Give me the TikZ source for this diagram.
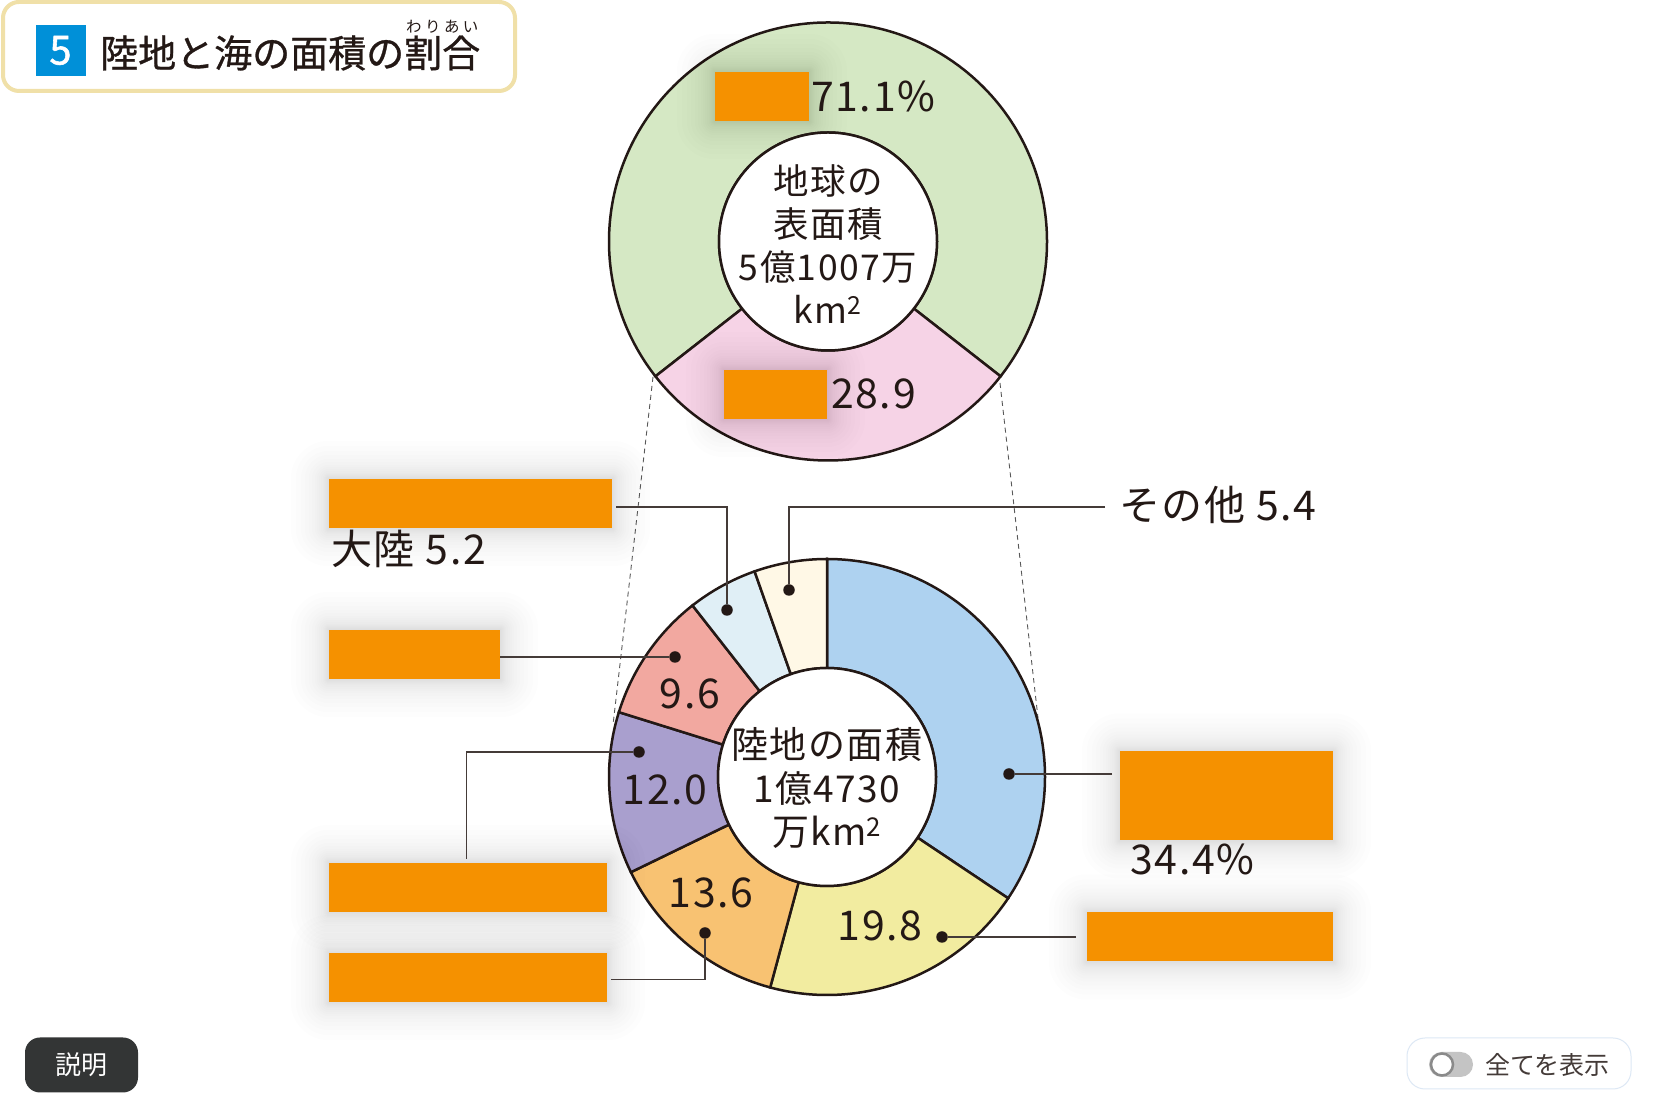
\documentclass[tikz,border=0pt]{standalone}
\usepackage{fontspec}
\usetikzlibrary{calc}
\newfontfamily\jpfont{Noto Sans CJK JP}
\newfontfamily\wordfont[LetterSpace=4]{Noto Sans CJK JP}
\newfontfamily\titlefont[FakeBold=0.8]{Noto Sans CJK JP}
\newfontfamily\badgefont[FakeBold=1.4]{Noto Sans CJK JP}
\newfontfamily\rubyfont[LetterSpace=22]{Noto Sans CJK JP}
\definecolor{inkline}{HTML}{231815}
\definecolor{seagreen}{HTML}{D5E8C4}
\definecolor{landpink}{HTML}{F6D3E6}
\definecolor{ringblue}{HTML}{AED2F0}
\definecolor{ringyellow}{HTML}{F2ECA0}
\definecolor{ringorange}{HTML}{F8C272}
\definecolor{ringpurple}{HTML}{A99FCE}
\definecolor{ringred}{HTML}{F2A8A0}
\definecolor{ringpale}{HTML}{E0EFF6}
\definecolor{ringcream}{HTML}{FFF8E6}
\definecolor{maskorange}{HTML}{F59100}
\pgfdeclarelayer{rings}
\pgfdeclarelayer{shadow}
\pgfsetlayers{rings,shadow,main}
\tikzset{
	ringline/.style={draw=inkline,line width=2.5pt},
	hub/.style={circle,draw=inkline,line width=2.5pt,fill=white,inner sep=0pt,minimum size=#1},
	hubtext/.style={align=center,text=inkline,inner sep=0pt,font=\wordfont\fontsize{35.5}{43}\selectfont},
	maskbox/.style={fill=maskorange,inner sep=0pt},
	dotmark/.style={circle,fill=inkline,inner sep=0pt,minimum size=11.5pt},
	leader/.style={draw=inkline!85,line width=1.1pt},
	figure/.style={text=inkline,inner sep=0pt,font=\wordfont\fontsize{41}{41}\selectfont}
}
\begin{document}
\begin{tikzpicture}[x=1pt,y=1pt]
		\useasboundingbox (0,0) rectangle (1655,1110);
		\begin{pgfonlayer}{rings}
		\fill[white] (0,0) rectangle (1655,1110);
		\coordinate (earth) at (828,868.5);
		\coordinate (land) at (827,333);
		% dashed guide lines between the two rings
		\coordinate (guideAa) at (653,733);
		\coordinate (guideAb) at (613,385);
		\coordinate (guideBa) at (1000,727);
		\coordinate (guideBb) at (1038,392);
		\draw[black!65,line width=.9pt,dash pattern=on 5pt off 4pt] (guideAa) -- (guideAb);
		\draw[black!65,line width=.9pt,dash pattern=on 5pt off 4pt] (guideBa) -- (guideBb);
		\begin{scope}[shift={(earth)}]
		\foreach \a/\b/\c in {-38/218/seagreen,218/322/landpink}
		{
			\filldraw[ringline,fill=\c] (\a:109) -- (\a:219) arc (\a:\b:219) -- (\b:109) arc (\b:\a:109) -- cycle;
		}
		\end{scope}
		\begin{scope}[shift={(land)}]
		\foreach \a/\b/\c in {90/-33.8/ringblue,-33.8/-105.1/ringyellow,-105.1/-154.1/ringorange,-154.1/-197.3/ringpurple,-197.3/-231.9/ringred,-231.9/-250.6/ringpale,-250.6/-270/ringcream}
		{
			\filldraw[ringline,fill=\c] (\a:109) -- (\a:218) arc (\a:\b:218) -- (\b:109) arc (\b:\a:109) -- cycle;
		}
		\end{scope}
		\end{pgfonlayer}
		\node[hub=218pt] (earthhub) at (earth) {};
		\node[hub=218pt] (landhub) at (land) {};
		\node[hubtext] (earthtext) at (828,866) {地球の\\表面積\\5億1007万\\km\textsuperscript{2}};
		\node[hubtext,font=\wordfont\fontsize{37}{43.5}\selectfont] (landtext) at (827,322) {陸地の面積\\1億4730\\万km\textsuperscript{2}};
		% orange cover boxes
		\node[maskbox,minimum width=94pt,minimum height=49pt] (seabox) at (762,1013.5) {};
		\node[maskbox,minimum width=103pt,minimum height=49pt] (landbox) at (775.5,715.5) {};
		\node[maskbox,minimum width=283pt,minimum height=49pt] (paleb) at (470.5,606.5) {};
		\node[maskbox,minimum width=171pt,minimum height=49pt] (redb) at (414.5,455.5) {};
		\node[maskbox,minimum width=278pt,minimum height=49pt] (purpleb) at (468,222.5) {};
		\node[maskbox,minimum width=278pt,minimum height=49pt] (orangeb) at (468,132.5) {};
		\node[maskbox,minimum width=213pt,minimum height=89pt] (blueb) at (1226.5,314) {};
		\node[maskbox,minimum width=246pt,minimum height=49pt] (yellowb) at (1210,173) {};
		\begin{pgfonlayer}{shadow}
		\foreach \n in {seabox,landbox,paleb,redb,purpleb,orangeb,blueb,yellowb}
		\foreach \g in {1,2,3,4,5,6,8,10,12,14,17,20,24,28,33,38}
		{
			\fill[black,opacity=.008,rounded corners=\g pt] ($(\n.south west)+(-\g,-\g)$) rectangle ($(\n.north east)+(\g,\g)$);
		}
		\end{pgfonlayer}
		% values
		\node[figure,anchor=west] (seaval) at (811,1014) {71.1\%};
		\node[figure,anchor=west] (landval) at (831,716) {28.9};
		\node[figure] (redval) at (690,416) {9.6};
		\node[figure] (purpleval) at (665,320) {12.0};
		\node[figure] (orangeval) at (711,217) {13.6};
		\node[figure] (yellowval) at (880,184) {19.8};
		\node[figure,anchor=west] (paleval) at (331,561) {大陸 5.2};
		\node[figure,anchor=west] (otherval) at (1119,605) {その他 5.4};
		\node[figure,anchor=west] (blueval) at (1130,251) {34.4\%};
		% leaders
		\node[dotmark] (dotother) at (789,520) {};
		\node[dotmark] (dotpale) at (727,500) {};
		\node[dotmark] (dotred) at (675,453) {};
		\node[dotmark] (dotpurple) at (639,358) {};
		\node[dotmark] (dotblue) at (1009,336) {};
		\node[dotmark] (dotyellow) at (942,173) {};
		\node[dotmark] (dotorange) at (705,177) {};
		\coordinate (paleend) at (616,603);
		\coordinate (otherend) at (1105,603);
		\coordinate (redend) at (500,453);
		\coordinate (purpleend) at (466.5,251);
		\coordinate (orangeend) at (611,130.5);
		\coordinate (yellowend) at (1076,173);
		\coordinate (blueend) at (1112,336);
		\draw[leader] (paleend) -| (dotpale);
		\draw[leader] (otherend) -| (dotother);
		\draw[leader] (redend) -- (dotred);
		\draw[leader] (purpleend) |- (dotpurple);
		\draw[leader] (orangeend) -| (dotorange);
		\draw[leader] (yellowend) -- (dotyellow);
		\draw[leader] (blueend) -- (dotblue);
		% title plate
		\node[draw={rgb,255:red,240;green,224;blue,168},line width=4pt,rounded corners=16pt,fill=white,minimum width=512pt,minimum height=89pt,inner sep=0pt] (plate) at (259,1063.5) {};
		\node[fill={rgb,255:red,0;green,144;blue,216},minimum width=50pt,minimum height=51pt,inner sep=0pt,text=white,font=\badgefont\fontsize{40}{40}\selectfont] (badge) at (60.5,1059.5) {5};
		\node[anchor=west,inner sep=0pt,text=inkline,font=\titlefont\fontsize{38}{38}\selectfont] (title) at (100,1057) {陸地と海の面積の割合};
		\node[anchor=west,inner sep=0pt,text=inkline,font=\rubyfont\fontsize{15.5}{15.5}\selectfont] (ruby) at (406,1083) {わりあい};
		% buttons
		\node[fill={rgb,255:red,51;green,53;blue,53},rounded corners=15pt,minimum width=113pt,minimum height=55pt,inner sep=0pt,text=white,font=\jpfont\fontsize{26}{26}\selectfont] (explain) at (81.5,45) {説明};
		\node[draw={rgb,255:red,221;green,232;blue,245},line width=1pt,rounded corners=18pt,fill=white,minimum width=224pt,minimum height=51pt,inner sep=0pt] (toggleframe) at (1519,46.5) {};
		\node[fill={rgb,255:red,196;green,196;blue,196},rounded corners=12.5pt,minimum width=44pt,minimum height=25pt,inner sep=0pt] (track) at (1451,45.5) {};
		\node[circle,draw={rgb,255:red,138;green,138;blue,138},line width=2.5pt,fill=white,minimum size=22pt,inner sep=0pt] (knob) at (1442,45.5) {};
		\node[anchor=west,inner sep=0pt,text=inkline!85,font=\jpfont\fontsize{25}{25}\selectfont] (showall) at (1485,45) {全てを表示};
		\end{tikzpicture}
\end{document}
